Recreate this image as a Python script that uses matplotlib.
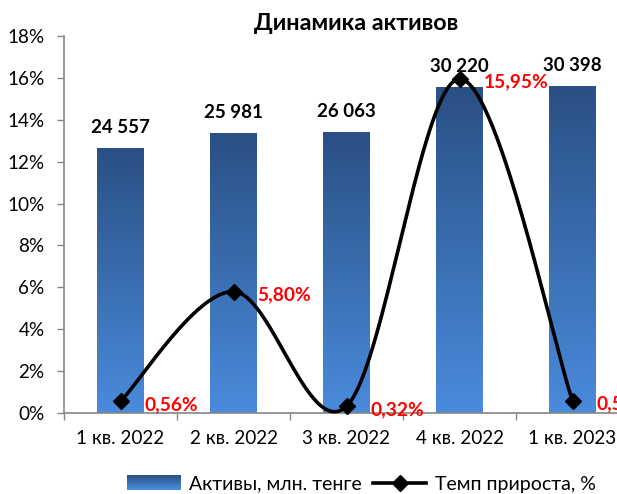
import numpy as np
import matplotlib
matplotlib.use('Agg')
import matplotlib.pyplot as plt
from matplotlib.patches import Rectangle
from matplotlib.lines import Line2D
from matplotlib.legend_handler import HandlerBase
from matplotlib.colors import LinearSegmentedColormap

categories = ['1 кв. 2022', '2 кв. 2022', '3 кв. 2022', '4 кв. 2022', '1 кв. 2023']
assets = [24557, 25981, 26063, 30220, 30398]
asset_labels = ['24 557', '25 981', '26 063', '30 220', '30 398']
growth = [0.56, 5.80, 0.32, 15.95, 0.59]
growth_labels = ['0,56%', '5,80%', '0,32%', '15,95%', '0,59%']
y_ticks = [0, 2, 4, 6, 8, 10, 12, 14, 16, 18]
y_tick_labels = [f'{t}%' for t in y_ticks]
title = 'Динамика активов'
legend_labels = ['Активы, млн. тенге', 'Темп прироста, %']

plt.rcParams['font.family'] = ['Lato', 'DejaVu Sans']

TOP_C = '#2A5084'
BOT_C = '#4A8BDC'
GRAY = '#868686'
cmap = LinearSegmentedColormap.from_list('g', [BOT_C, TOP_C])

W, H = 617, 494
fig = plt.figure(figsize=(W / 100, H / 100), dpi=100)
axb = fig.add_axes([64 / W, 81 / H, 565 / W, 377 / H])
axl = axb.twinx()

# bars (hidden secondary scale)
axb.set_ylim(0, 35000)
axb.set_xlim(-0.5, 4.5)
bw = 0.41
grad = np.linspace(0, 1, 256).reshape(-1, 1)
bars = axb.bar(range(len(assets)), assets, width=bw, color='none', edgecolor='none', zorder=2)
for i, (b, v) in enumerate(zip(bars, assets)):
    im = axb.imshow(grad, extent=[i - bw / 2, i + bw / 2, 0, v], origin='lower',
                    aspect='auto', cmap=cmap, zorder=2)
    im.set_clip_path(b)
    axb.annotate(asset_labels[i], (i, v), xytext=(0, 12), textcoords='offset pixels',
                 ha='center', va='bottom', fontsize=13.5, fontweight='bold', color='black', zorder=3)
axb.set_xlim(-0.5, 4.5)
axb.set_ylim(0, 35000)

# x axis
axb.set_xticks(range(len(categories)))
axb.set_xticklabels(categories, fontsize=13.6)
axb.tick_params(axis='x', which='major', length=0, pad=12)
axb.set_xticks(np.arange(-0.5, 5.0, 1.0), minor=True)
axb.tick_params(axis='x', which='minor', length=5, width=1, color=GRAY, direction='out')
axb.yaxis.set_visible(False)
for s in ['top', 'right', 'left']:
    axb.spines[s].set_visible(False)
axb.spines['bottom'].set_color(GRAY)
axb.spines['bottom'].set_linewidth(1.2)

# smoothed line (Catmull-Rom Bezier like Excel)
xs = np.arange(len(growth), dtype=float)
ys = np.array(growth, dtype=float)
px, py = [], []
n = len(xs)
t = np.linspace(0, 1, 60)
for i in range(n - 1):
    p0 = np.array([xs[max(i - 1, 0)], ys[max(i - 1, 0)]])
    p1 = np.array([xs[i], ys[i]])
    p2 = np.array([xs[i + 1], ys[i + 1]])
    p3 = np.array([xs[min(i + 2, n - 1)], ys[min(i + 2, n - 1)]])
    c1 = p1 + (p2 - p0) / 6
    c2 = p2 - (p3 - p1) / 6
    bx = (1 - t) ** 3 * p1[0] + 3 * (1 - t) ** 2 * t * c1[0] + 3 * (1 - t) * t ** 2 * c2[0] + t ** 3 * p2[0]
    by = (1 - t) ** 3 * p1[1] + 3 * (1 - t) ** 2 * t * c1[1] + 3 * (1 - t) * t ** 2 * c2[1] + t ** 3 * p2[1]
    px.extend(bx)
    py.extend(by)
axl.plot(px, py, color='black', lw=2.6, solid_capstyle='round', zorder=4, clip_on=False)
axl.plot(xs, ys, linestyle='none', marker='D', markersize=8.5, color='black', zorder=5, clip_on=False)
for i, (x, y) in enumerate(zip(xs, ys)):
    axl.annotate(growth_labels[i], (x, y), xytext=(24, -3), textcoords='offset pixels',
                 ha='left', va='center', fontsize=13.8, fontweight='bold', color='#FF0000', zorder=6,
                 annotation_clip=False)

axl.set_ylim(0, 18)
axl.set_xlim(-0.5, 4.5)
axl.yaxis.tick_left()
axl.set_yticks(y_ticks)
axl.set_yticklabels(y_tick_labels, fontsize=13.6)
axl.tick_params(axis='y', length=5, width=1, color=GRAY, direction='out', pad=9)
for s in ['top', 'right', 'bottom']:
    axl.spines[s].set_visible(False)
axl.spines['left'].set_color(GRAY)
axl.spines['left'].set_linewidth(1.2)

fig.text(356.5 / W, 1 - 23 / H, title, ha='center', va='center', fontsize=16.8, fontweight='bold')


class GradHandler(HandlerBase):
    def create_artists(self, legend, orig_handle, xdescent, ydescent, width, height, fontsize, trans):
        arts = []
        ns = 20
        for k in range(ns):
            c = cmap(1 - (k + 0.5) / ns)
            r = Rectangle((-xdescent, -ydescent + height * (ns - 1 - k) / ns), width, height / ns + 0.3,
                          facecolor=c, edgecolor='none', transform=trans)
            arts.append(r)
        return arts


bar_handle = Rectangle((0, 0), 1, 1)
line_handle = Line2D([], [], color='black', lw=2.6, marker='D', markersize=8)
fig.legend([bar_handle, line_handle], legend_labels, loc='center',
           bbox_to_anchor=(361.5 / W, 1 - 484 / H), ncol=2, frameon=False, fontsize=14,
           handlelength=2.75, handleheight=0.7, columnspacing=0.55, handletextpad=0.45,
           borderpad=0.2, handler_map={Rectangle: GradHandler()})

fig.savefig('out.png', dpi=100)
